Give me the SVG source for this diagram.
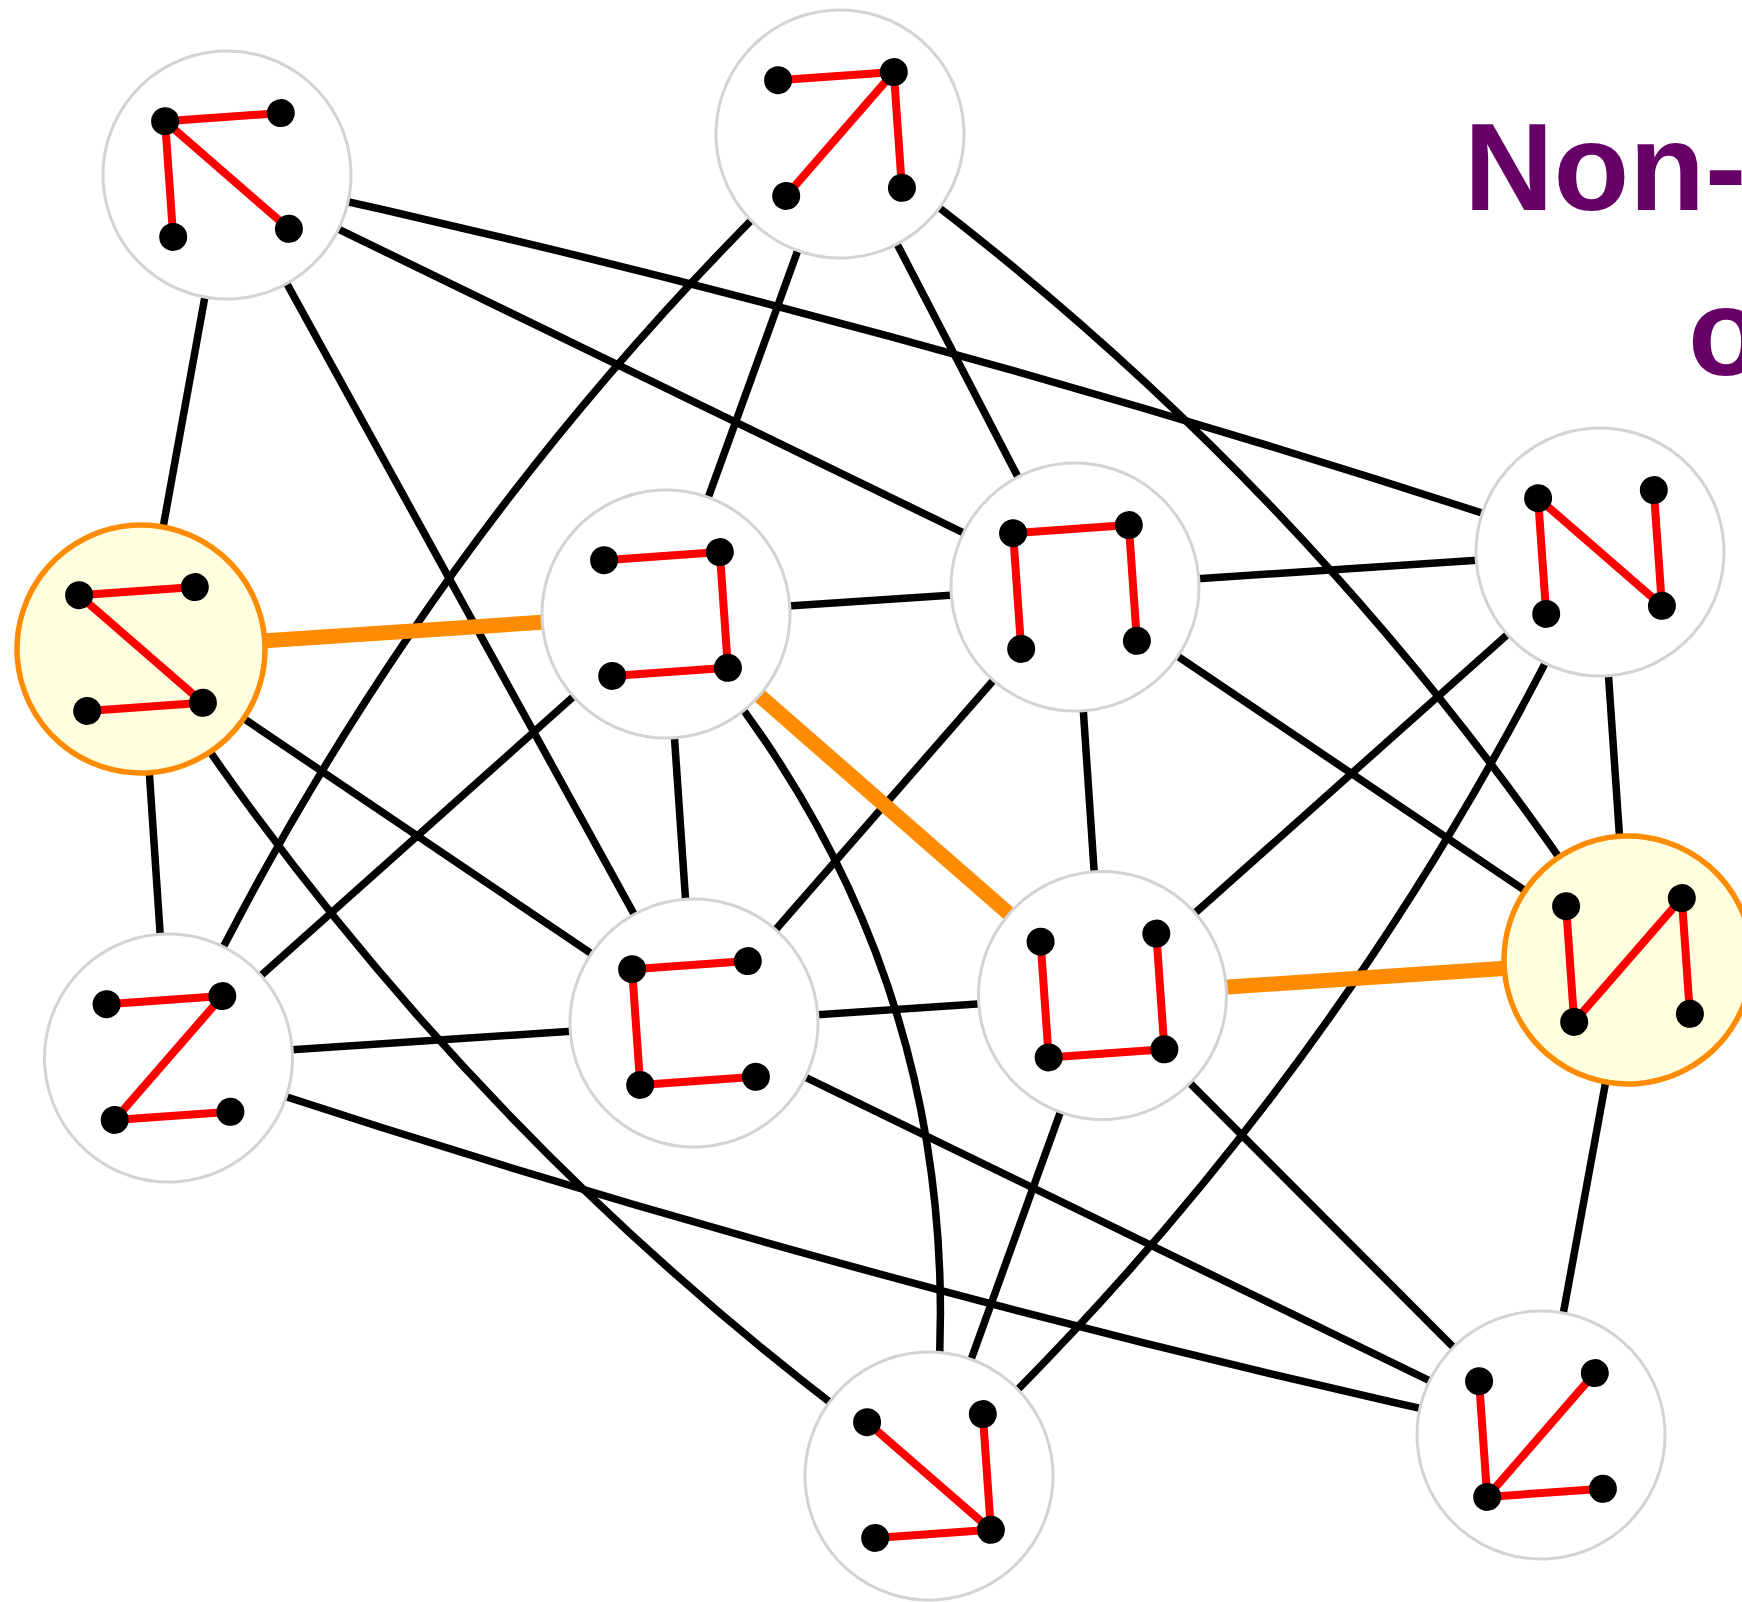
<svg xmlns="http://www.w3.org/2000/svg" width="1742" height="1602" viewBox="0 0 1742 1602">
<style>
.e{stroke:#000;stroke-width:7.5;fill:none}
.h{stroke:#ff8c00;stroke-width:15;fill:none}
.ring{fill:#fff;stroke:#d3d3d3;stroke-width:3}
.hring{fill:#ffffe0;stroke:#ff8c00;stroke-width:5.5}
.r{stroke:#f00;stroke-width:8}
.d{fill:#000}
.t{font-family:"Liberation Sans",Arial,sans-serif;font-weight:bold;font-size:124px;fill:#660066}
</style>
<defs>
<g id="dots">
<circle class="d" cx="-58" cy="-58" r="14"/>
<circle class="d" cx="58" cy="-58" r="14"/>
<circle class="d" cx="-58" cy="58" r="14"/>
<circle class="d" cx="58" cy="58" r="14"/>
</g>
</defs>
<rect width="1742" height="1602" fill="#fff"/>
<g id="connectors">
<line class="e" x1="227" y1="175" x2="141" y2="649"/>
<line class="e" x1="227" y1="175" x2="694" y2="1023"/>
<line class="e" x1="227" y1="175" x2="1075" y2="587"/>
<line class="e" x1="840" y1="134" x2="666" y2="614"/>
<line class="e" x1="840" y1="134" x2="1075" y2="587"/>
<line class="e" x1="141" y1="649" x2="168.5" y2="1058"/>
<line class="e" x1="141" y1="649" x2="694" y2="1023"/>
<line class="e" x1="666" y1="614" x2="1075" y2="587"/>
<line class="e" x1="666" y1="614" x2="168.5" y2="1058"/>
<line class="e" x1="666" y1="614" x2="694" y2="1023"/>
<line class="e" x1="1075" y1="587" x2="1600" y2="552"/>
<line class="e" x1="1075" y1="587" x2="694" y2="1023"/>
<line class="e" x1="1075" y1="587" x2="1102.5" y2="995.5"/>
<line class="e" x1="1075" y1="587" x2="1628" y2="960"/>
<line class="e" x1="1600" y1="552" x2="1102.5" y2="995.5"/>
<line class="e" x1="1600" y1="552" x2="1628" y2="960"/>
<line class="e" x1="168.5" y1="1058" x2="694" y2="1023"/>
<line class="e" x1="694" y1="1023" x2="1102.5" y2="995.5"/>
<line class="e" x1="694" y1="1023" x2="1541" y2="1435"/>
<line class="e" x1="1102.5" y1="995.5" x2="929" y2="1476"/>
<line class="e" x1="1102.5" y1="995.5" x2="1541" y2="1435"/>
<line class="e" x1="1628" y1="960" x2="1541" y2="1435"/>
<path class="e" d="M227,175 Q924,325 1600,552"/>
<path class="e" d="M168.5,1058 Q844,1285 1541,1435"/>
<path class="e" d="M840,134 Q415.3,531.3 168.5,1058"/>
<path class="e" d="M1600,552 Q1353.5,1078.6 929,1476"/>
<path class="e" d="M840,134 Q1313.6,471.1 1628,960"/>
<path class="e" d="M141,649 Q455.4,1138.4 929,1476"/>
<path class="e" d="M666,614 Q996.5,984.3 929,1476"/>
<line class="h" x1="141" y1="649" x2="666" y2="614"/>
<line class="h" x1="666" y1="614" x2="1102.5" y2="995.5"/>
<line class="h" x1="1102.5" y1="995.5" x2="1628" y2="960"/>
</g>
<g id="n1" transform="translate(227,175) rotate(-4)">
<circle class="ring" r="124"/>
<path class="r" d="M-58,-58 L58,-58 M-58,-58 L-58,58 M-58,-58 L58,58"/>
<use href="#dots"/>
</g>
<g id="n2" transform="translate(840,134) rotate(-4)">
<circle class="ring" r="124"/>
<path class="r" d="M-58,-58 L58,-58 M58,-58 L-58,58 M58,-58 L58,58"/>
<use href="#dots"/>
</g>
<g id="n3" transform="translate(141,649) rotate(-4)">
<circle class="hring" r="124"/>
<path class="r" d="M-58,-58 L58,-58 M-58,-58 L58,58 M-58,58 L58,58"/>
<use href="#dots"/>
</g>
<g id="n4" transform="translate(666,614) rotate(-4)">
<circle class="ring" r="124"/>
<path class="r" d="M-58,-58 L58,-58 M58,-58 L58,58 M-58,58 L58,58"/>
<use href="#dots"/>
</g>
<g id="n5" transform="translate(1075,587) rotate(-4)">
<circle class="ring" r="124"/>
<path class="r" d="M-58,-58 L58,-58 M-58,-58 L-58,58 M58,-58 L58,58"/>
<use href="#dots"/>
</g>
<g id="n6" transform="translate(1600,552) rotate(-4)">
<circle class="ring" r="124"/>
<path class="r" d="M-58,-58 L-58,58 M-58,-58 L58,58 M58,-58 L58,58"/>
<use href="#dots"/>
</g>
<g id="n7" transform="translate(168.5,1058) rotate(-4)">
<circle class="ring" r="124"/>
<path class="r" d="M-58,-58 L58,-58 M58,-58 L-58,58 M-58,58 L58,58"/>
<use href="#dots"/>
</g>
<g id="n8" transform="translate(694,1023) rotate(-4)">
<circle class="ring" r="124"/>
<path class="r" d="M-58,-58 L58,-58 M-58,-58 L-58,58 M-58,58 L58,58"/>
<use href="#dots"/>
</g>
<g id="n9" transform="translate(1102.5,995.5) rotate(-4)">
<circle class="ring" r="124"/>
<path class="r" d="M-58,-58 L-58,58 M-58,58 L58,58 M58,-58 L58,58"/>
<use href="#dots"/>
</g>
<g id="n10" transform="translate(1628,960) rotate(-4)">
<circle class="hring" r="124"/>
<path class="r" d="M-58,-58 L-58,58 M-58,58 L58,-58 M58,-58 L58,58"/>
<use href="#dots"/>
</g>
<g id="n11" transform="translate(929,1476) rotate(-4)">
<circle class="ring" r="124"/>
<path class="r" d="M-58,-58 L58,58 M58,-58 L58,58 M-58,58 L58,58"/>
<use href="#dots"/>
</g>
<g id="n12" transform="translate(1541,1435) rotate(-4)">
<circle class="ring" r="124"/>
<path class="r" d="M-58,-58 L-58,58 M-58,58 L58,-58 M-58,58 L58,58"/>
<use href="#dots"/>
</g>
<g id="title">
<text class="t" x="1464" y="210">Non-</text>
<text class="t" x="1688" y="375">o</text>
</g>
</svg>
